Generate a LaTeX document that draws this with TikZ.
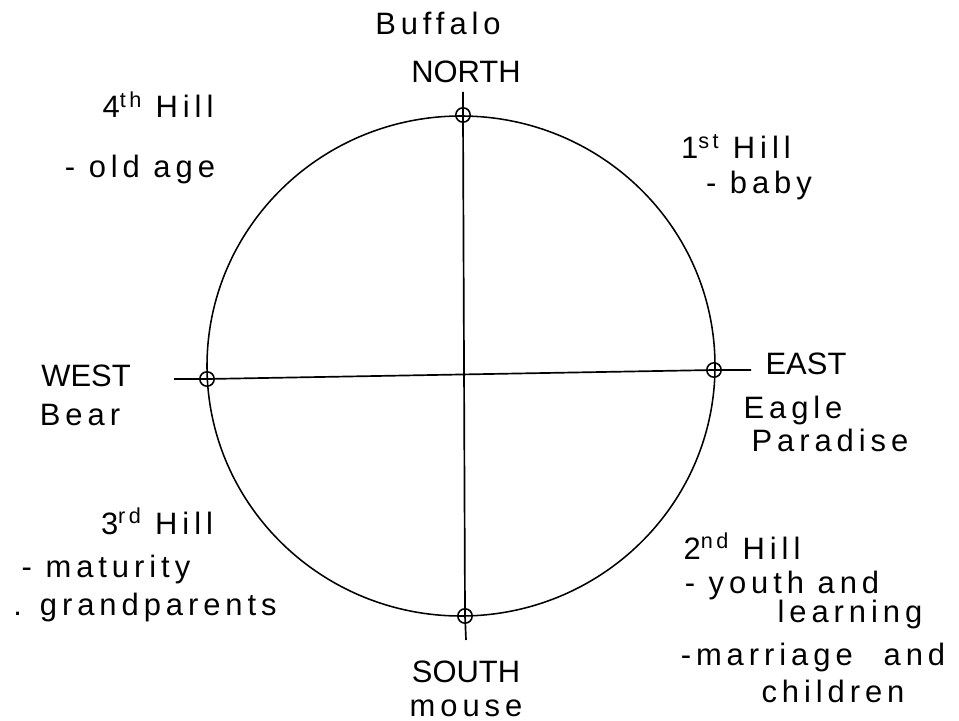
\documentclass[tikz,border=0pt]{standalone}
\usepackage{fontspec}
\setmainfont{Liberation Sans}[LetterSpace=16]
\usetikzlibrary{positioning}

\begin{document}
\begin{tikzpicture}[
  x=0.025cm, y=-0.025cm,
  font=\fontsize{22}{26}\selectfont,
  line width=1.1pt,
  lbl/.style={anchor=base, inner sep=0pt},
  caps/.style={lbl, font=\fontsize{22}{26}\selectfont\addfontfeature{LetterSpace=0}},
  ring/.style={draw, circle, minimum size=3.6mm, inner sep=0pt, line width=1.1pt},
  axis/.style={line width=1.2pt},
  ]
\useasboundingbox (0,0) rectangle (959,721);

% the wheel
\coordinate (ctr) at (461,366);
\draw (ctr) ellipse [x radius=254, y radius=250];

% the four directions
\coordinate (ntip) at (463,92);
\coordinate (stip) at (466,640);
\coordinate (wtip) at (174,379);
\coordinate (etip) at (751,370);
\node[ring] (north) at (463,115) {};
\node[ring] (south) at (465,616) {};
\node[ring] (west) at (207,379) {};
\node[ring] (east) at (714,370) {};
\draw[axis] (ntip) -- (north.center) -- (south.center) -- (stip);
\draw[axis] (wtip) -- (west.center) -- (east.center) -- (etip);

% north
\node[lbl] (buffalo) at (438,35) {Buffalo};
\node[caps] (northlbl) at (466,83) {NORTH};

% fourth hill
\node[lbl] (hill4) at (158,118) {4\textsuperscript{th} Hill};
\node[lbl] (oldage) at (140,178) {- old age};

% first hill
\node[lbl] (hill1) at (736,159) {1\textsuperscript{st} Hill};
\node[lbl] (baby) at (759,194) {- baby};

% west and east
\node[caps] (westlbl) at (86,386) {WEST};
\node[lbl] (bear) at (80,425) {Bear};
\node[caps] (eastlbl) at (806,374) {EAST};
\node[lbl] (eagle) at (793,418) {Eagle};
\node[lbl] (paradise) at (830,451) {Paradise};

% third hill
\node[lbl] (hill3) at (157,534) {3\textsuperscript{rd} Hill};
\node[lbl] (maturity) at (106,577) {- maturity};
\node[lbl] (grand) at (145,615) {. grandparents};

% second hill
\node[lbl] (hill2) at (742,559) {2\textsuperscript{nd} Hill};
\node[lbl] (youth) at (782,593) {- youth and};
\node[lbl] (learning) at (850,622) {learning};
\node[lbl] (marriage) at (813,665) {-marriage\quad and};
\node[lbl] (children) at (833,702) {children};

% south
\node[caps] (southlbl) at (466,682) {SOUTH};
\node[lbl] (mouse) at (466,716) {mouse};
\end{tikzpicture}
\end{document}
